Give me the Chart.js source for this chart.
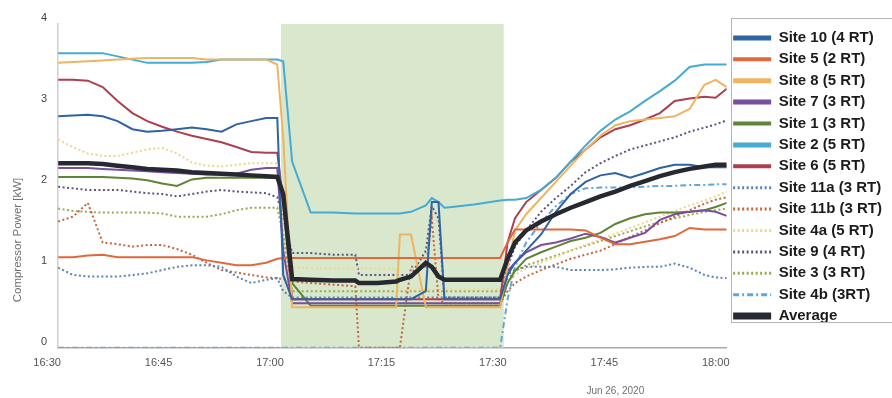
<!DOCTYPE html>
<html><head><meta charset="utf-8">
<script src="https://cdn.jsdelivr.net/npm/chart.js@4.4.1/dist/chart.umd.min.js"></script>
<style>html,body{margin:0;padding:0;background:#fff}#wrap{width:892px;height:398px}</style>
</head><body><div id="wrap"><canvas id="c" width="892" height="398"></canvas></div>
<script>
// time in minutes after 16:30
const minutes = [0,2,4,6,8,10,12,14,16,18,20,22,24,26,28,29.5,30.3,31.5,34,37,40,40.5,43,45.5,46,47.5,49.5,50.3,51.2,52,53,56,59.5,60.5,61.5,63,65,67,69,71,73,75,77,79,81,83,85,87,88.5,90];
const tickLabels = ['16:30','16:45','17:00','17:15','17:30','17:45','18:00'];
const yTitle = 'Compressor Power [kW]';
const dateLabel = 'Jun 26, 2020';
const eventWindow = [30, 60];
const yMax = 4;

const site10 = [2.86,2.87,2.88,2.86,2.80,2.70,2.67,2.68,2.70,2.72,2.70,2.67,2.76,2.80,2.84,2.84, 0.90, 0.60,0.60,0.60,0.60,0.60,0.60,0.60,0.60,0.60,0.70,1.80,1.80,0.60,0.60,0.60,0.60, 0.90,1.05,1.20,1.40,1.68,1.90,2.05,2.13,2.16,2.10,2.16,2.22,2.26,2.26,2.23,2.23,2.23];
const site5 = [1.12,1.12,1.14,1.15,1.12,1.12,1.12,1.12,1.12,1.12,1.08,1.05,1.02,1.02,1.05,1.10, 1.11, 1.11,1.11,1.11,1.11,1.11,1.11,1.11,1.11,1.11,1.11,1.11,1.11,1.11,1.11,1.11,1.11, 1.30,1.46,1.46,1.46,1.46,1.46,1.45,1.36,1.28,1.28,1.31,1.34,1.38,1.48,1.46,1.46,1.46];
const site8 = [3.52,3.53,3.54,3.55,3.56,3.57,3.58,3.58,3.58,3.58,3.56,3.56,3.56,3.56,3.56,3.50, 2.60, 0.50,0.50,0.50,0.50,0.50,0.50,0.50,1.40,1.40,0.50,0.50,0.50,0.50,0.50,0.50,0.50, 1.00,1.45,1.65,1.85,2.05,2.25,2.45,2.62,2.75,2.80,2.82,2.84,2.86,2.95,3.25,3.31,3.22];
const site7 = [2.22,2.22,2.22,2.21,2.20,2.19,2.18,2.17,2.16,2.15,2.14,2.14,2.15,2.20,2.22,2.22, 1.20, 0.55,0.55,0.55,0.55,0.55,0.55,0.55,0.55,0.55,0.55,0.55,0.55,0.55,0.55,0.55,0.55, 0.95,1.05,1.18,1.27,1.30,1.35,1.41,1.37,1.30,1.36,1.42,1.58,1.65,1.68,1.70,1.68,1.63];
const site1 = [2.11,2.11,2.11,2.11,2.10,2.09,2.07,2.03,2.00,2.08,2.10,2.10,2.10,2.10,2.10,2.10, 1.90, 0.80,0.52,0.52,0.52,0.52,0.52,0.52,0.52,0.52,0.52,0.52,0.52,0.52,0.52,0.52,0.52, 0.80,0.95,1.10,1.18,1.25,1.32,1.36,1.42,1.53,1.60,1.65,1.67,1.67,1.68,1.70,1.74,1.79];
const site2 = [3.64,3.64,3.64,3.64,3.60,3.56,3.52,3.52,3.52,3.52,3.53,3.56,3.56,3.56,3.56,3.56, 3.54, 2.30,1.67,1.67,1.66,1.66,1.66,1.66,1.66,1.68,1.76,1.85,1.80,1.73,1.74,1.77,1.82, 1.83,1.83,1.85,1.95,2.10,2.30,2.50,2.68,2.82,2.92,3.05,3.17,3.30,3.47,3.50,3.50,3.50];
const site6 = [3.31,3.31,3.30,3.22,3.05,2.90,2.80,2.73,2.67,2.62,2.58,2.54,2.48,2.42,2.41,2.41, 1.80, 0.60,0.60,0.60,0.60,0.60,0.60,0.60,0.60,0.60,0.60,0.60,0.60,0.60,0.60,0.60,0.60, 1.30,1.60,1.80,1.95,2.10,2.30,2.45,2.60,2.70,2.75,2.82,2.90,3.05,3.08,3.10,3.09,3.20];
const site11a = [0.99,0.90,0.88,0.88,0.88,0.90,0.92,0.96,1.00,1.02,1.02,1.00,0.88,0.80,0.84,0.86, 0.70, 0.62,0.62,0.62,0.62,0.62,0.62,0.62,0.62,0.62,0.62,0.62,0.62,0.62,0.62,0.62,0.62, 0.90,0.96,1.00,1.00,1.00,0.96,0.96,0.96,0.97,0.99,1.00,1.00,1.04,0.99,0.90,0.87,0.86];
const site11b = [1.56,1.62,1.79,1.30,1.28,1.25,1.27,1.27,1.22,1.15,1.05,0.96,0.93,0.90,0.87,0.86, 0.85, 0.82,0.80,0.78,0.76,0.00,0.00,0.00,0.00,1.00,1.00,1.60,0.60,0.55,0.55,0.55,0.55, 0.70,0.80,0.88,0.96,1.03,1.10,1.15,1.20,1.28,1.37,1.45,1.54,1.62,1.70,1.78,1.83,1.86];
const site4a = [2.57,2.48,2.40,2.37,2.37,2.41,2.45,2.47,2.40,2.29,2.25,2.24,2.26,2.28,2.28,2.28, 1.60, 1.00,0.98,0.98,0.98,0.98,0.98,0.98,0.72,0.72,0.72,0.72,0.72,0.72,0.72,0.72,0.72, 0.80,0.90,0.98,1.05,1.12,1.20,1.27,1.34,1.41,1.48,1.55,1.62,1.69,1.76,1.82,1.87,1.93];
const site9 = [1.99,1.97,1.95,1.95,1.95,1.93,1.91,1.90,1.87,1.90,1.93,1.95,1.93,1.92,1.91,1.86, 1.60, 1.17,1.17,1.15,1.15,0.90,0.90,0.90,0.90,0.90,1.20,1.75,1.60,0.62,0.62,0.62,0.62, 1.00,1.25,1.45,1.68,1.85,2.00,2.17,2.28,2.37,2.45,2.50,2.55,2.60,2.67,2.72,2.76,2.81];
const site3 = [1.72,1.69,1.68,1.67,1.67,1.67,1.67,1.66,1.62,1.62,1.62,1.65,1.70,1.73,1.73,1.73, 1.40, 0.70,0.70,0.70,0.70,0.70,0.70,0.70,0.70,0.70,0.70,0.70,0.70,0.70,0.70,0.70,0.70, 0.85,0.95,1.02,1.08,1.14,1.20,1.26,1.32,1.38,1.44,1.50,1.55,1.60,1.64,1.68,1.70,1.72];
const site4b = [0,0,0,0,0,0,0,0,0,0,0,0,0,0,0,0, 0, 0,0,0,0,0,0,0,0,0,0,0,0,0,0,0,0, 0.60,1.00,1.30,1.55,1.75,1.90,1.97,1.98,1.98,1.98,1.99,2.00,2.00,2.01,2.01,2.02,2.02];
const average = [2.28,2.28,2.28,2.27,2.25,2.23,2.21,2.20,2.19,2.17,2.16,2.15,2.14,2.13,2.12,2.11, 1.90, 0.85,0.84,0.83,0.83,0.80,0.80,0.82,0.84,0.88,1.05,1.00,0.88,0.84,0.84,0.84,0.84, 1.10,1.30,1.45,1.56,1.65,1.73,1.80,1.87,1.93,2.00,2.06,2.12,2.17,2.21,2.24,2.26,2.26];

const DOT = [2,2.5], DASHDOT = [6,3,2,3];
const defs = [
  {label:'Site 10 (4 RT)', data:site10, color:'#2f63a3', dash:[], w:2, lw:5},
  {label:'Site 5 (2 RT)', data:site5, color:'#e0683d', dash:[], w:2, lw:4},
  {label:'Site 8 (5 RT)', data:site8, color:'#efb463', dash:[], w:2, lw:5},
  {label:'Site 7 (3 RT)', data:site7, color:'#7a4e9c', dash:[], w:2, lw:5},
  {label:'Site 1 (3 RT)', data:site1, color:'#5f8436', dash:[], w:2, lw:4},
  {label:'Site 2 (5 RT)', data:site2, color:'#46aad2', dash:[], w:2, lw:5},
  {label:'Site 6 (5 RT)', data:site6, color:'#ad3f4e', dash:[], w:2, lw:4},
  {label:'Site 11a (3 RT)', data:site11a, color:'#5a84b2', dash:DOT, w:2, lw:3},
  {label:'Site 11b (3 RT)', data:site11b, color:'#c4653f', dash:DOT, w:2, lw:3},
  {label:'Site 4a (5 RT)', data:site4a, color:'#eed78a', dash:DOT, w:2, lw:3},
  {label:'Site 9 (4 RT)', data:site9, color:'#5d5482', dash:DOT, w:2, lw:3},
  {label:'Site 3 (3 RT)', data:site3, color:'#9aa852', dash:DOT, w:2, lw:3},
  {label:'Site 4b (3RT)', data:site4b, color:'#63a6d6', dash:DASHDOT, w:2, lw:3},
  {label:'Average', data:average, color:'#262a30', dash:[], w:4.5, lw:7}
];

const datasets = defs.map(d => ({
  label: d.label,
  data: minutes.map((m, j) => ({x: m, y: d.data[j]})),
  borderColor: d.color, backgroundColor: d.color,
  borderWidth: d.w, borderDash: d.dash,
  pointRadius: 0, tension: 0, fill: false,
  order: d.label === 'Average' ? 0 : 1
}));
datasets.push({
  label: 'DR event',
  data: eventWindow.map(m => ({x: m, y: yMax})),
  fill: 'origin', backgroundColor: '#d9e8cd', borderWidth: 0,
  pointRadius: 0, order: 100
});

const decor = {
  id: 'decor',
  afterDraw(chart) {
    const ctx = chart.ctx, lg = chart.legend;
    ctx.save();
    ctx.strokeStyle = '#b5b5b5'; ctx.lineWidth = 1;
    ctx.strokeRect(Math.round(lg.left) + 4.5, 18.5, 220, 304);
    ctx.fillStyle = '#707070';
    ctx.font = '11.5px "Liberation Sans", Arial, sans-serif';
    ctx.textAlign = 'center'; ctx.textBaseline = 'middle';
    ctx.save(); ctx.translate(18, 240); ctx.rotate(-Math.PI / 2);
    ctx.fillText(yTitle, 0, 0); ctx.restore();
    ctx.font = '10px "Liberation Sans", Arial, sans-serif';
    ctx.fillText(dateLabel, chart.scales.x.getPixelForValue(75), 391);
    ctx.restore();
  }
};

Chart.defaults.font.family = '"Liberation Sans", Arial, sans-serif';
new Chart(document.getElementById('c'), {
  type: 'line',
  data: {datasets},
  options: {
    responsive: false, animation: false, devicePixelRatio: 1,
    layout: {padding: {left: 30, right: 0, top: 24, bottom: 19}},
    scales: {
      x: {type: 'linear', min: 0, max: 90,
          grid: {display: false, drawTicks: false},
          border: {display: true, color: '#a9a9a9', width: 1.5},
          ticks: {stepSize: 15, padding: 9, labelOffset: -11, color: '#555', font: {size: 11},
                  callback: v => tickLabels[v / 15]}},
      y: {min: 0, max: yMax,
          grid: {display: false, drawTicks: false},
          border: {display: true, color: '#cfcfcf', width: 1.5},
          ticks: {stepSize: 1, padding: 11, labelOffset: -6, color: '#444', font: {size: 11}}}
    },
    plugins: {
      tooltip: {enabled: false},
      legend: {
        position: 'right', align: 'start',
        labels: {
          usePointStyle: true, pointStyle: 'line', pointStyleWidth: 38,
          padding: 6.4, color: '#1b1b1b',
          font: {size: 15, weight: 'bold'},
          filter: item => item.datasetIndex < defs.length,
          sort: (a, b) => a.datasetIndex - b.datasetIndex,
          generateLabels(chart) {
            const items = Chart.defaults.plugins.legend.labels.generateLabels(chart);
            items.forEach(it => {
              const d = defs[it.datasetIndex];
              if (d) { it.lineWidth = d.lw; it.strokeStyle = d.color; it.lineDash = d.dash; it.pointStyle = 'line'; }
            });
            return items;
          }
        }
      }
    }
  },
  plugins: [decor]
});
</script></body></html>
